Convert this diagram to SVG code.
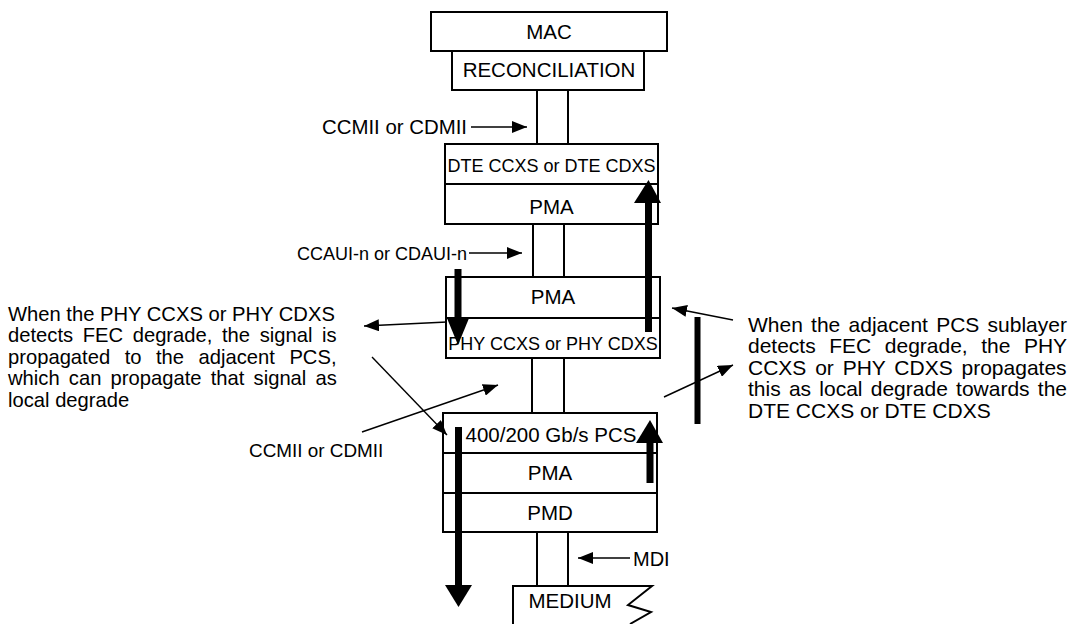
<svg xmlns="http://www.w3.org/2000/svg" width="1077" height="624" viewBox="0 0 1077 624">
<defs>
<style>
.box{fill:#fff;stroke:#000;stroke-width:2}
.ln{fill:none;stroke:#000;stroke-width:2}
.t{font-family:"Liberation Sans",Arial,sans-serif;fill:#000}
.b{font-size:20.5px;text-anchor:middle}
.s{font-size:18px;text-anchor:middle}
.p{font-size:20px}
.thin{fill:none;stroke:#000;stroke-width:1.4}
.thick{fill:#000}
</style>
<marker id="ah" markerUnits="userSpaceOnUse" markerWidth="16" markerHeight="12" refX="15" refY="6" orient="auto">
<path d="M0,0 L15,6 L0,12 z" fill="#000"/>
</marker>
</defs>
<rect width="1077" height="624" fill="#fff"/>

<g id="mac"><rect class="box" x="431" y="12" width="236" height="39"/><text class="t b" x="549" y="39">MAC</text></g>
<g id="reconciliation"><rect class="box" x="452" y="51" width="192" height="39"/><text class="t b" x="549" y="77">RECONCILIATION</text></g>

<g id="dte"><rect class="box" x="445" y="144" width="213" height="80"/><line class="ln" x1="445" y1="184" x2="658" y2="184"/>
<text class="t s" x="551.5" y="172">DTE CCXS or DTE CDXS</text><text class="t b" x="551.5" y="214">PMA</text></g>

<g id="phy"><rect class="box" x="446" y="277" width="214" height="81"/><line class="ln" x1="446" y1="318" x2="660" y2="318"/>
<text class="t b" x="553" y="304">PMA</text><text class="t s" x="553" y="350">PHY CCXS or PHY CDXS</text></g>

<g id="pcs"><rect class="box" x="443" y="413" width="214" height="119"/><line class="ln" x1="443" y1="453" x2="657" y2="453"/><line class="ln" x1="443" y1="493" x2="657" y2="493"/>
<text class="t b" x="551" y="442">400/200 Gb/s PCS</text><text class="t b" x="550" y="480">PMA</text><text class="t b" x="550" y="520">PMD</text></g>

<g id="medium"><polyline class="ln" points="513,624 513,586 652,586 628,605 651,612 630,624"/><text class="t b" x="570" y="608">MEDIUM</text></g>

<g id="labels">
<text class="t" font-size="20.4" x="467" y="134" text-anchor="end">CCMII or CDMII</text>
<text class="t" font-size="18" x="467" y="260" text-anchor="end">CCAUI-n or CDAUI-n</text>
<text class="t" font-size="18.9" x="249" y="457">CCMII or CDMII</text>
<text class="t p" x="633" y="566">MDI</text>
<text class="t" font-size="20.2">
<tspan x="8" y="320.5">When the PHY CCXS or PHY CDXS</tspan>
<tspan x="8" y="342" word-spacing="4.0">detects FEC degrade, the signal is</tspan>
<tspan x="8" y="363.5" word-spacing="8.9">propagated to the adjacent PCS,</tspan>
<tspan x="8" y="385" word-spacing="3.6">which can propagate that signal as</tspan>
<tspan x="8" y="406.5">local degrade</tspan>
</text>
<text class="t" font-size="21">
<tspan x="748" y="331.5" word-spacing="2.4">When the adjacent PCS sublayer</tspan>
<tspan x="748" y="353" word-spacing="7.7">detects FEC degrade, the PHY</tspan>
<tspan x="748" y="374.5" word-spacing="3.0">CCXS or PHY CDXS propagates</tspan>
<tspan x="748" y="396" word-spacing="2.4">this as local degrade towards the</tspan>
<tspan x="748" y="417.5">DTE CCXS or DTE CDXS</tspan>
</text>
</g>

<g id="connectors">
<line class="ln" x1="537" y1="90" x2="537" y2="144"/><line class="ln" x1="568" y1="90" x2="568" y2="144"/>
<line class="ln" x1="533" y1="224" x2="533" y2="277"/><line class="ln" x1="564" y1="224" x2="564" y2="277"/>
<line class="ln" x1="532" y1="358" x2="532" y2="413"/><line class="ln" x1="564" y1="358" x2="564" y2="413"/>
<line class="ln" x1="537" y1="532" x2="537" y2="586"/><line class="ln" x1="568" y1="532" x2="568" y2="586"/>

<line class="thin" x1="471" y1="127" x2="527" y2="127" marker-end="url(#ah)"/>
<line class="thin" x1="469" y1="253" x2="522" y2="253" marker-end="url(#ah)"/>
<line class="thin" x1="630" y1="558" x2="578" y2="558" marker-end="url(#ah)"/>
<line class="thin" x1="447" y1="322" x2="364" y2="326" marker-end="url(#ah)"/>
<line class="thin" x1="372" y1="357" x2="447" y2="435" marker-end="url(#ah)"/>
<line class="thin" x1="362" y1="432" x2="498" y2="385" marker-end="url(#ah)"/>
<line class="thin" x1="733" y1="320" x2="672" y2="308" marker-end="url(#ah)"/>
<line class="thin" x1="664" y1="397" x2="733" y2="365" marker-end="url(#ah)"/>

<rect class="thick" x="454.5" y="269" width="7" height="50"/><polygon class="thick" points="446.5,317 469.5,317 458,345"/>
<rect class="thick" x="455" y="427" width="7" height="159"/><polygon class="thick" points="445,585 472,585 458.5,607"/>
<rect class="thick" x="645" y="201" width="7" height="131"/><polygon class="thick" points="634,203 661,203 648.5,180"/>
<rect class="thick" x="646.5" y="441" width="7" height="42"/><polygon class="thick" points="636,443 663,443 650,420"/>
<rect class="thick" x="694.5" y="317" width="6" height="107"/>
</g>
</svg>
